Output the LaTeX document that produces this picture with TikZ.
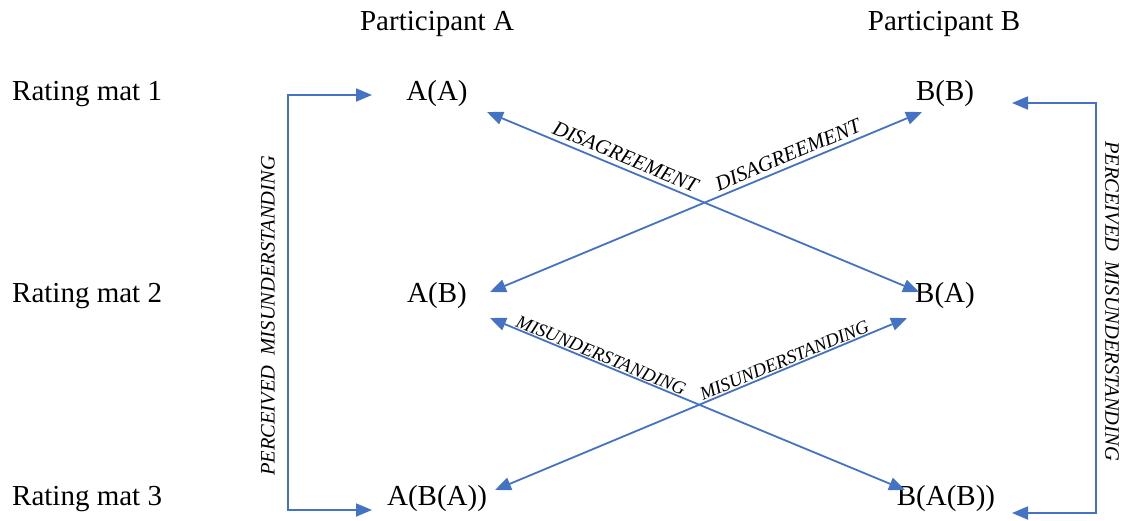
\documentclass[tikz,border=0pt]{standalone}
\usepackage{fontspec}
\setmainfont{Liberation Serif}
\usetikzlibrary{arrows.meta,calc}
\definecolor{linkblue}{RGB}{68,114,196}

\begin{document}
\begin{tikzpicture}[
    x=1pt, y=-1pt,
    every node/.style={inner sep=0pt, font=\fontsize{29}{34}\selectfont},
    link/.style={draw=linkblue, line width=1.8pt,
      {Triangle[length=16pt,width=13pt]}-{Triangle[length=16pt,width=13pt]}},
    dis/.style={sloped, above=4pt, font=\fontsize{21}{25}\selectfont\itshape},
    mis/.style={sloped, above=1pt, font=\fontsize{18.7}{22}\selectfont\itshape},
    perc/.style={font=\fontsize{20.5}{24}\selectfont\itshape}
  ]
  \useasboundingbox (0,0) rectangle (1121,520);

  % Column heads
  \node (pa) at (437,24) {Participant A};
  \node (pb) at (944,24) {Participant B};

  % Rating mats
  \node[anchor=west] (r1) at (12,94) {Rating mat 1};
  \node[anchor=west] (r2) at (12,296) {Rating mat 2};
  \node[anchor=west] (r3) at (12,499) {Rating mat 3};

  % Views of participant A
  \node (aa) at (437,94) {A(A)};
  \node (ab) at (437,296) {A(B)};
  \node (aba) at (437,499) {A(B(A))};

  % Views of participant B
  \node (bb) at (945,94) {B(B)};
  \node (ba) at (945,296) {B(A)};
  \node (bab) at (946,499) {B(A(B))};

  % Crossing arrows
  \draw[link] ($(aa)+(50,18)$) -- node[dis, pos=0.31] {DISAGREEMENT} ($(ba)+(-26,-4)$);
  \draw[link] ($(ab)+(53,-4)$) -- node[dis, pos=0.70] {DISAGREEMENT} ($(bb)+(-23,18)$);
  \draw[link] ($(ab)+(53,22)$) -- node[mis, pos=0.26] {MISUNDERSTANDING} ($(bab)+(-41,-9)$);
  \draw[link] ($(aba)+(58,-9)$) -- node[mis, pos=0.71] {MISUNDERSTANDING} ($(ba)+(-38,22)$);

  % Perceived misunderstanding brackets
  \draw[link] ($(aa)+(-65,1)$) -- ++(-84,0) |- ($(aba)+(-65,11)$);
  \node[perc, rotate=90] (pml) at (268,316) {PERCEIVED\ \ MISUNDERSTANDING};
  \draw[link] ($(bb)+(67,9)$) -- ++(84,0) |- ($(bab)+(66,14)$);
  \node[perc, rotate=-90] (pmr) at (1112,301) {PERCEIVED\ \ MISUNDERSTANDING};
\end{tikzpicture}
\end{document}
